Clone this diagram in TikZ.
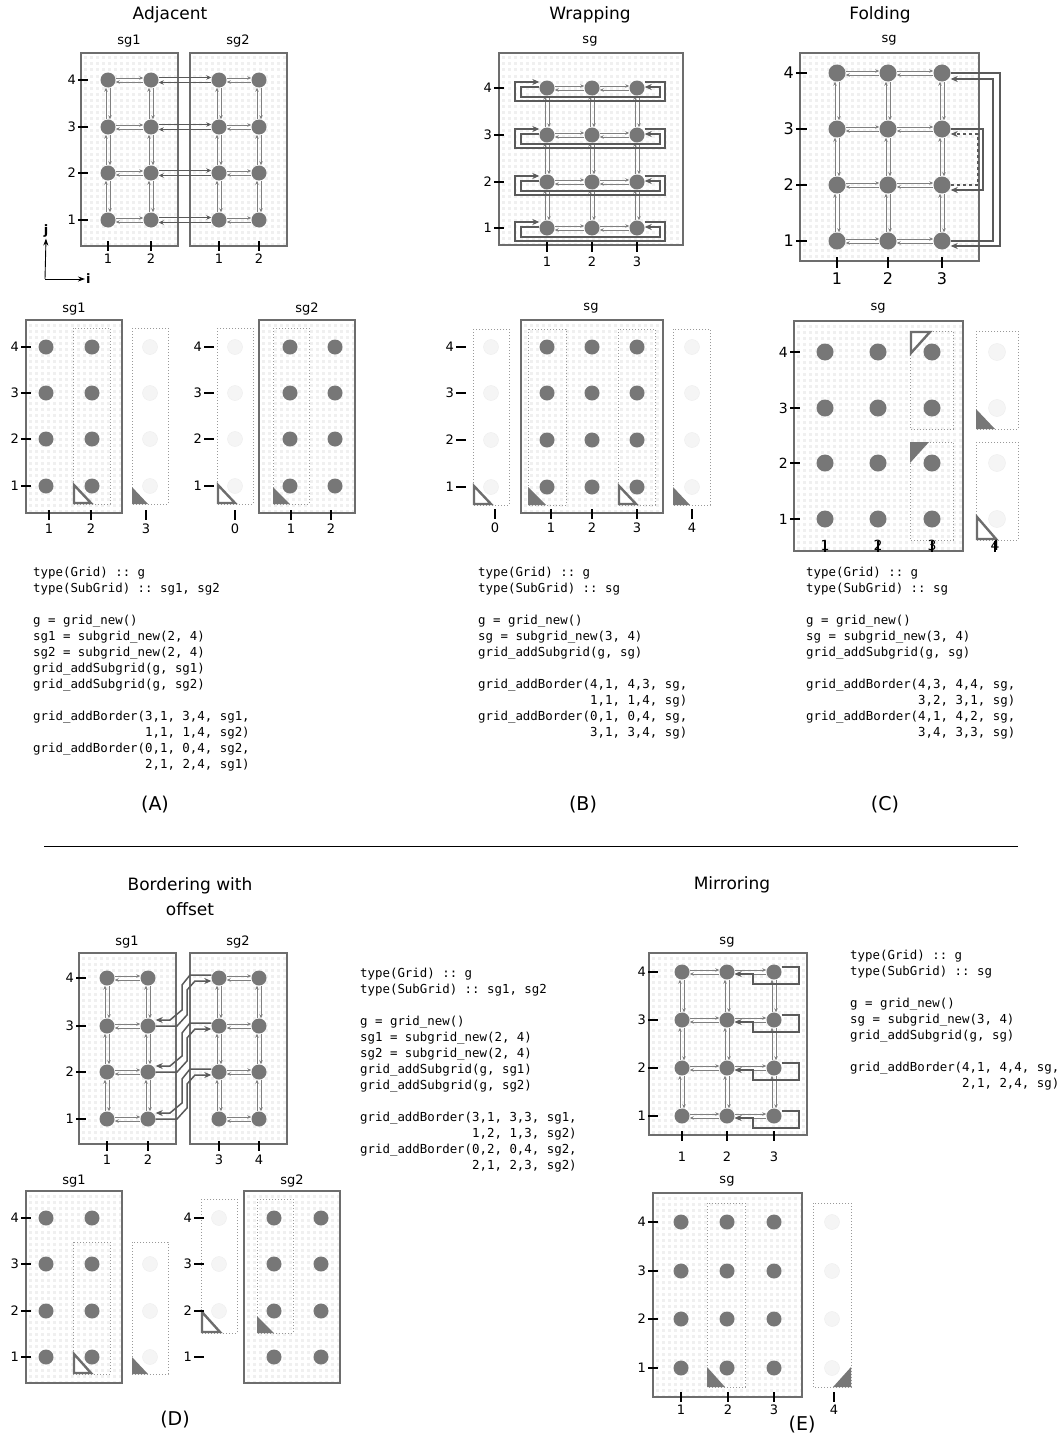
\documentclass[tikz,border=0pt]{standalone}
\usepackage{fontspec}
\setmainfont{DejaVu Sans}
\setsansfont{DejaVu Sans}
\setmonofont{DejaVu Sans Mono}
\usepackage{xcolor}
\usepackage{tikz}
\usetikzlibrary{arrows.meta, positioning, calc}

\definecolor{nodegray}{HTML}{777777}
\definecolor{boxgray}{HTML}{6D6D6D}
\definecolor{linkgray}{HTML}{808080}
\definecolor{bordgray}{HTML}{5A5A5A}
\definecolor{dotgray}{HTML}{F0F0F0}
\definecolor{ghostgray}{HTML}{F5F5F5}

% dotted background of a subgrid
\newcommand{\sgback}[4]{%
  \begin{scope}
    \clip (#1,#2) rectangle (#3,#4);
    \fill[white] (#1,#2) rectangle (#3,#4);
    \foreach \yy in {5,11,...,245}
      \draw[bgdash] (#1+3,#2+\yy) -- (#3,#2+\yy);
  \end{scope}}

% pairs of links
\newcommand{\hlink}[2]{%
  \draw[lnk] ([yshift=2pt]#1.east) -- ([yshift=2pt]#2.west);
  \draw[lnk] ([yshift=-2pt]#2.west) -- ([yshift=-2pt]#1.east);}
\newcommand{\vlink}[2]{%
  \draw[lnk] ([xshift=-2pt]#1.north) -- ([xshift=-2pt]#2.south);
  \draw[lnk] ([xshift=2pt]#2.south) -- ([xshift=2pt]#1.north);}
\newcommand{\hbord}[2]{%
  \draw[bordlnk] ([yshift=2.5pt]#1.east) -- ([yshift=2.5pt]#2.west);
  \draw[bordlnk] ([yshift=-2.5pt]#2.west) -- ([yshift=-2.5pt]#1.east);}

% axis ticks
\newcommand{\yticks}[3]{%
  \foreach \r/\yy in {#3} {
    \draw[tickln] (#2,\yy) -- (#2+10,\yy);
    \node[lbl, anchor=east] (#1-\r) at (#2-1,\yy) {\r};}}
\newcommand{\xticks}[4]{%
  \foreach \t/\xx [count=\k] in {#4} {
    \draw[tickln] (\xx,#2) -- (\xx,#2+10);
    \node[lbl] (#1-\k) at (\xx,#3) {\t};}}

\newcommand{\ind}{\hphantom{grid\_addBorder(}}

\begin{document}
\begin{tikzpicture}[
    x=1pt, y=-1pt,
    cell/.style={circle, fill=nodegray, minimum size=15pt, inner sep=0pt},
    bigcell/.style={cell, minimum size=17pt},
    ghost/.style={circle, fill=ghostgray, draw=black!7, minimum size=15pt, inner sep=0pt},
    bigghost/.style={ghost, minimum size=17pt},
    sgbox/.style={draw=boxgray, line width=1.6pt},
    dotbox/.style={draw=black!40, dotted, line width=1pt},
    lnk/.style={draw=linkgray, line width=0.8pt, -{Stealth[length=4pt,width=3.5pt]}},
    bordlnk/.style={draw=bordgray, line width=1.3pt, -{Stealth[length=5pt,width=4.5pt]}},
    bord/.style={draw=bordgray, line width=1.8pt, -{Stealth[length=7pt,width=6pt]}},
    bgdash/.style={draw=dotgray, line width=3pt, dash pattern=on 3pt off 3pt},
    tickln/.style={draw=black, line width=1.4pt},
    lbl/.style={font=\fontsize{13}{15}\selectfont, inner sep=1pt},
    lblbig/.style={font=\fontsize{16}{18}\selectfont, inner sep=1pt},
    sglbl/.style={font=\fontsize{13}{15}\selectfont, inner sep=0pt},
    ttl/.style={font=\fontsize{17}{25}\selectfont, align=center},
    panellbl/.style={font=\fontsize{19}{22}\selectfont},
    codeblk/.style={font=\ttfamily\fontsize{12.4}{16}\selectfont, align=left, inner sep=0pt, anchor=north west},
    opentri/.style={draw=boxgray, line width=2.4pt, fill=white},
    filltri/.style={fill=nodegray},
    axisarr/.style={line width=0.9pt, -{Stealth[length=7pt,width=5pt]}}
]
\useasboundingbox (0,0) rectangle (1064,1437);

%%%%%%%%%% (A) Adjacent
\node[ttl] (tA) at (170,15) {Adjacent};
\sgback{81}{53}{178}{246}
\sgback{190}{53}{287}{246}
\draw[sgbox] (81,53) rectangle (178,246);
\draw[sgbox] (190,53) rectangle (287,246);
\node[sglbl] (atsg1) at (129,41) {sg1};
\node[sglbl] (atsg2) at (238,41) {sg2};
\foreach \c/\x in {1/108,2/151,3/219,4/259}
  \foreach \r/\y in {1/220,2/173,3/127,4/80}
    \node[cell] (at-\c-\r) at (\x,\y) {};
\foreach \r in {1,...,4} {
  \hlink{at-1-\r}{at-2-\r}
  \hlink{at-3-\r}{at-4-\r}
  \hbord{at-2-\r}{at-3-\r}
}
\foreach \c in {1,...,4}
  \foreach \r/\s in {1/2,2/3,3/4}
    {\vlink{at-\c-\r}{at-\c-\s}}
\yticks{atyl}{78}{1/220,2/173,3/127,4/80}
\xticks{atx}{241}{259}{1/108,2/151,1/219,2/259}
\coordinate (orig) at (45,279);
\node[lbl, font=\bfseries\fontsize{13}{15}\selectfont] (jl) at (46,231) {j};
\node[lbl, font=\bfseries\fontsize{13}{15}\selectfont, anchor=west] (il) at (85,279) {i};
\draw[axisarr] (orig) -- (jl.south);
\draw[axisarr] (orig) -- (il.west);

% lower part
\sgback{26}{320}{122}{513}
\draw[sgbox] (26,320) rectangle (122,513);
\node[sglbl] (absg1) at (74,309) {sg1};
\foreach \c/\x in {1/46,2/92}
  \foreach \r/\y in {1/486,2/439,3/393,4/347}
    \node[cell] (ab-\c-\r) at (\x,\y) {};
\draw[dotbox] (73,328) rectangle (110,504);
\draw[opentri] (74,485) -- (74,503) -- (91,503) -- cycle;
\draw[dotbox] (132,328) rectangle (168,504);
\foreach \r/\y in {1/486,2/439,3/393,4/347}
  \node[ghost] (ab-3-\r) at (150,\y) {};
\fill[filltri] (132,487) -- (132,504) -- (148,504) -- cycle;
\yticks{abyl}{21}{1/486,2/439,3/393,4/347}
\xticks{abx}{510}{529}{1/49,2/91,3/146}

\draw[dotbox] (217,328) rectangle (253,504);
\foreach \r/\y in {1/486,2/439,3/393,4/347}
  \node[ghost] (ab-0-\r) at (235,\y) {};
\draw[opentri] (218,485) -- (218,503) -- (235,503) -- cycle;
\yticks{abyr}{204}{1/486,2/439,3/393,4/347}
\sgback{259}{320}{355}{513}
\draw[sgbox] (259,320) rectangle (355,513);
\node[sglbl] (absg2) at (307,309) {sg2};
\foreach \c/\x in {1/290,2/335}
  \foreach \r/\y in {1/486,2/439,3/393,4/347}
    \node[cell] (abb-\c-\r) at (\x,\y) {};
\draw[dotbox] (273,328) rectangle (309,504);
\fill[filltri] (273,487) -- (273,504) -- (290,504) -- cycle;
\xticks{abxr}{510}{529}{0/235,1/291,2/331}

\node[codeblk] (codeA) at (33,567) {type(Grid) :: g\\
type(SubGrid) :: sg1, sg2\\[16pt]
g = grid\_new()\\
sg1 = subgrid\_new(2, 4)\\
sg2 = subgrid\_new(2, 4)\\
grid\_addSubgrid(g, sg1)\\
grid\_addSubgrid(g, sg2)\\[16pt]
grid\_addBorder(3,1, 3,4, sg1,\\
\ind 1,1, 1,4, sg2)\\
grid\_addBorder(0,1, 0,4, sg2,\\
\ind 2,1, 2,4, sg1)};
\node[panellbl] (capA) at (155,805) {(A)};

%%%%%%%%%% (B) Wrapping
\node[ttl] (tB) at (590,15) {Wrapping};
\sgback{499}{53}{683}{245}
\draw[sgbox] (499,53) rectangle (683,245);
\node[sglbl] (btsg) at (590,41) {sg};
\foreach \c/\x in {1/547,2/592,3/637}
  \foreach \r/\y in {1/228,2/182,3/135,4/88}
    \node[cell] (bt-\c-\r) at (\x,\y) {};
\foreach \r in {1,...,4} {
  \hlink{bt-1-\r}{bt-2-\r}
  \hlink{bt-2-\r}{bt-3-\r}
}
\foreach \c in {1,2,3}
  \foreach \r/\s in {1/2,2/3,3/4}
    {\vlink{bt-\c-\r}{bt-\c-\s}}
\foreach \r/\y in {1/228,2/182,3/135,4/88} {
  \draw[bord] ([yshift=6pt]bt-3-\r.east) -| (665,\y+13) -| (515,\y-6) -- ([yshift=6pt]bt-1-\r.west);
  \draw[bord] ([yshift=1pt]bt-1-\r.west) -| (521,\y+9) -| (660,\y-1) -- ([yshift=1pt]bt-3-\r.east);
}
\yticks{btyl}{494}{1/228,2/182,3/135,4/88}
\xticks{btx}{242}{262}{1/547,2/592,3/637}

% lower part
\draw[dotbox] (473,329) rectangle (509,505);
\foreach \r/\y in {1/487,2/440,3/393,4/347}
  \node[ghost] (bb-0-\r) at (491,\y) {};
\draw[opentri] (474,486) -- (474,504) -- (491,504) -- cycle;
\yticks{bbyl}{456}{1/487,2/440,3/393,4/347}
\sgback{521}{320}{663}{513}
\draw[sgbox] (521,320) rectangle (663,513);
\node[sglbl] (bbsg) at (591,308) {sg};
\foreach \c/\x in {1/547,2/592,3/637}
  \foreach \r/\y in {1/487,2/440,3/393,4/347}
    \node[cell] (bb-\c-\r) at (\x,\y) {};
\draw[dotbox] (528,329) rectangle (566,505);
\fill[filltri] (528,487) -- (528,505) -- (546,505) -- cycle;
\draw[dotbox] (618,329) rectangle (655,505);
\draw[opentri] (619,486) -- (619,504) -- (636,504) -- cycle;
\draw[dotbox] (673,329) rectangle (710,505);
\foreach \r/\y in {1/487,2/440,3/393,4/347}
  \node[ghost] (bb-4-\r) at (692,\y) {};
\fill[filltri] (673,487) -- (673,505) -- (690,505) -- cycle;
\xticks{bbx}{509}{528}{0/495,1/551,2/592,3/637,4/692}

\node[codeblk] (codeB) at (478,567) {type(Grid) :: g\\
type(SubGrid) :: sg\\[16pt]
g = grid\_new()\\
sg = subgrid\_new(3, 4)\\
grid\_addSubgrid(g, sg)\\[16pt]
grid\_addBorder(4,1, 4,3, sg,\\
\ind 1,1, 1,4, sg)\\
grid\_addBorder(0,1, 0,4, sg,\\
\ind 3,1, 3,4, sg)};
\node[panellbl] (capB) at (583,805) {(B)};

%%%%%%%%%% (C) Folding
\node[ttl] (tC) at (880,15) {Folding};
\sgback{800}{53}{979}{261}
\draw[sgbox] (800,53) rectangle (979,261);
\node[sglbl] (ctsg) at (889,40) {sg};
\foreach \c/\x in {1/837,2/888,3/942}
  \foreach \r/\y in {1/241,2/185,3/129,4/73}
    \node[bigcell] (ct-\c-\r) at (\x,\y) {};
\foreach \r in {1,...,4} {
  \hlink{ct-1-\r}{ct-2-\r}
  \hlink{ct-2-\r}{ct-3-\r}
}
\foreach \c in {1,2,3}
  \foreach \r/\s in {1/2,2/3,3/4}
    {\vlink{ct-\c-\r}{ct-\c-\s}}
\draw[bord] (ct-3-4.east) -| (1000,246) -- ([yshift=-5pt]ct-3-1.east);
\draw[bord] (ct-3-1.east) -| (993,79) -- ([yshift=-6pt]ct-3-4.east);
\draw[bord] (ct-3-3.east) -| (983,190) -- ([yshift=-5pt]ct-3-2.east);
\draw[bord, dashed, line width=1.2pt] (ct-3-2.east) -| (978,134) -- ([yshift=-5pt]ct-3-3.east);
\foreach \r/\yy in {1/241,2/185,3/129,4/73} {
  \draw[tickln] (796,\yy) -- (807,\yy);
  \node[lblbig, anchor=east] (ctyl-\r) at (795,\yy) {\r};}
\foreach \t/\xx in {1/837,2/888,3/942} {
  \draw[tickln] (\xx,257) -- (\xx,268);
  \node[lblbig] (ctx-\t) at (\xx,279) {\t};}

% lower part
\sgback{794}{321}{963}{551}
\draw[sgbox] (794,321) rectangle (963,551);
\node[sglbl] (cbsg) at (878,308) {sg};
\foreach \c/\x in {1/825,2/878,3/932}
  \foreach \r/\y in {1/519,2/463,3/408,4/352}
    \node[bigcell] (cb-\c-\r) at (\x,\y) {};
\draw[dotbox] (910,331) rectangle (953,429);
\draw[opentri] (911,332) -- (911,353) -- (930,332) -- cycle;
\draw[dotbox] (910,442) rectangle (953,540);
\fill[filltri] (910,442) -- (910,463) -- (929,442) -- cycle;
\draw[dotbox] (976,331) rectangle (1018,429);
\draw[dotbox] (976,442) rectangle (1018,540);
\foreach \r/\y in {1/519,2/463,3/408,4/352}
  \node[bigghost] (cb-4-\r) at (997,\y) {};
\fill[filltri] (976,409) -- (976,429) -- (995,429) -- cycle;
\draw[opentri] (977,517) -- (977,539) -- (996,539) -- cycle;
\foreach \r/\yy in {1/519,2/463,3/408,4/352} {
  \draw[tickln] (790,\yy) -- (800,\yy);
  \node[lbl, font=\fontsize{14}{16}\selectfont, anchor=east] (cbyl-\r) at (789,\yy) {\r};}
\foreach \t/\xx in {1/825,2/878,3/932,4/995} {
  \draw[tickln] (\xx,541) -- (\xx,552);
  \node[lbl, font=\fontsize{14}{16}\selectfont] (cbx-\t) at (\xx,545) {\t};}

\node[codeblk] (codeC) at (806,567) {type(Grid) :: g\\
type(SubGrid) :: sg\\[16pt]
g = grid\_new()\\
sg = subgrid\_new(3, 4)\\
grid\_addSubgrid(g, sg)\\[16pt]
grid\_addBorder(4,3, 4,4, sg,\\
\ind 3,2, 3,1, sg)\\
grid\_addBorder(4,1, 4,2, sg,\\
\ind 3,4, 3,3, sg)};
\node[panellbl] (capC) at (885,805) {(C)};

% separator
\coordinate (ruleL) at (44,846);
\coordinate (ruleR) at (1018,846);
\draw[line width=1pt] (ruleL) -- (ruleR);

%%%%%%%%%% (D) Bordering with offset
\node[ttl] (tD) at (190,897) {Bordering with\\offset};
\sgback{79}{953}{176}{1144}
\sgback{190}{953}{287}{1144}
\draw[sgbox] (79,953) rectangle (176,1144);
\draw[sgbox] (190,953) rectangle (287,1144);
\node[sglbl] (dtsg1) at (127,942) {sg1};
\node[sglbl] (dtsg2) at (238,942) {sg2};
\foreach \c/\x in {1/107,2/148,3/219,4/259}
  \foreach \r/\y in {1/1119,2/1072,3/1026,4/978}
    \node[cell] (dt-\c-\r) at (\x,\y) {};
\foreach \r in {1,...,4} {
  \hlink{dt-1-\r}{dt-2-\r}
  \hlink{dt-3-\r}{dt-4-\r}
}
\foreach \c in {1,...,4}
  \foreach \r/\s in {1/2,2/3,3/4}
    {\vlink{dt-\c-\r}{dt-\c-\s}}
\foreach \r/\s/\yr/\ys in {1/2/1119/1072,2/3/1072/1026,3/4/1026/978} {
  \draw[bord, line width=1.5pt] ([yshift=3pt]dt-3-\s.west) -- (190,\ys-3) -- (182,\ys+7) -- (182,\yr-16) -- (170,\yr-6) -- ([yshift=6pt]dt-2-\r.east);
  \draw[bord, line width=1.5pt] (dt-2-\r.east) -- (177,\yr) -- (187,\yr-11) -- (187,\ys+12) -- (195,\ys+3) -- ([yshift=-3pt]dt-3-\s.west);
}
\yticks{dtyl}{76}{1/1119,2/1072,3/1026,4/978}
\xticks{dtx}{1141}{1160}{1/107,2/148,3/219,4/259}

% lower part
\sgback{26}{1191}{122}{1383}
\draw[sgbox] (26,1191) rectangle (122,1383);
\node[sglbl] (dbsg1) at (74,1181) {sg1};
\foreach \c/\x in {1/46,2/92}
  \foreach \r/\y in {1/1357,2/1311,3/1264,4/1218}
    \node[cell] (db-\c-\r) at (\x,\y) {};
\draw[dotbox] (73,1242) rectangle (110,1374);
\draw[opentri] (74,1354) -- (74,1373) -- (91,1373) -- cycle;
\draw[dotbox] (132,1242) rectangle (168,1374);
\foreach \r/\y in {1/1357,2/1311,3/1264}
  \node[ghost] (db-3-\r) at (150,\y) {};
\fill[filltri] (132,1357) -- (132,1374) -- (148,1374) -- cycle;
\yticks{dbyl}{21}{1/1357,2/1311,3/1264,4/1218}

\draw[dotbox] (201,1199) rectangle (237,1333);
\foreach \r/\y in {2/1311,3/1264,4/1218}
  \node[ghost] (db-0-\r) at (219,\y) {};
\draw[opentri] (202,1312) -- (202,1332) -- (220,1332) -- cycle;
\yticks{dbyr}{194}{1/1357,2/1311,3/1264,4/1218}
\sgback{244}{1191}{340}{1383}
\draw[sgbox] (244,1191) rectangle (340,1383);
\node[sglbl] (dbsg2) at (292,1181) {sg2};
\foreach \c/\x in {1/274,2/321}
  \foreach \r/\y in {1/1357,2/1311,3/1264,4/1218}
    \node[cell] (dbb-\c-\r) at (\x,\y) {};
\draw[dotbox] (257,1199) rectangle (293,1333);
\fill[filltri] (257,1316) -- (257,1333) -- (274,1333) -- cycle;

\node[codeblk] (codeD) at (360,968) {type(Grid) :: g\\
type(SubGrid) :: sg1, sg2\\[16pt]
g = grid\_new()\\
sg1 = subgrid\_new(2, 4)\\
sg2 = subgrid\_new(2, 4)\\
grid\_addSubgrid(g, sg1)\\
grid\_addSubgrid(g, sg2)\\[16pt]
grid\_addBorder(3,1, 3,3, sg1,\\
\ind 1,2, 1,3, sg2)\\
grid\_addBorder(0,2, 0,4, sg2,\\
\ind 2,1, 2,3, sg2)};
\node[panellbl] (capD) at (175,1420) {(D)};

%%%%%%%%%% (E) Mirroring
\node[ttl] (tE) at (732,885) {Mirroring};
\sgback{649}{953}{807}{1135}
\draw[sgbox] (649,953) rectangle (807,1135);
\node[sglbl] (etsg) at (727,942) {sg};
\foreach \c/\x in {1/682,2/727,3/774}
  \foreach \r/\y in {1/1116,2/1068,3/1020,4/972}
    \node[cell] (et-\c-\r) at (\x,\y) {};
\foreach \r in {1,...,4} {
  \hlink{et-1-\r}{et-2-\r}
  \hlink{et-2-\r}{et-3-\r}
}
\foreach \c in {1,2,3}
  \foreach \r/\s in {1/2,2/3,3/4}
    {\vlink{et-\c-\r}{et-\c-\s}}
\foreach \r/\y in {1/1116,2/1068,3/1020,4/972}
  \draw[bord, line width=1.6pt] ([yshift=5pt]et-3-\r.east) -| (799,\y+12) -| (753,\y+2) -- ([yshift=-2pt]et-2-\r.east);
\yticks{etyl}{648}{1/1116,2/1068,3/1020,4/972}
\xticks{etx}{1131}{1157}{1/682,2/727,3/774}

% lower part
\sgback{653}{1193}{802}{1397}
\draw[sgbox] (653,1193) rectangle (802,1397);
\node[sglbl] (ebsg) at (727,1181) {sg};
\foreach \c/\x in {1/681,2/727,3/774}
  \foreach \r/\y in {1/1368,2/1319,3/1271,4/1222}
    \node[cell] (eb-\c-\r) at (\x,\y) {};
\draw[dotbox] (707,1203) rectangle (745,1387);
\fill[filltri] (707,1367) -- (707,1387) -- (725,1387) -- cycle;
\draw[dotbox] (813,1203) rectangle (851,1387);
\foreach \r/\y in {1/1368,2/1319,3/1271,4/1222}
  \node[ghost] (eb-4-\r) at (832,\y) {};
\fill[filltri] (851,1367) -- (851,1387) -- (833,1387) -- cycle;
\yticks{ebyl}{648}{1/1368,2/1319,3/1271,4/1222}
\xticks{ebx}{1392}{1410}{1/681,2/728,3/774,4/834}

\node[codeblk] (codeE) at (850,950) {type(Grid) :: g\\
type(SubGrid) :: sg\\[16pt]
g = grid\_new()\\
sg = subgrid\_new(3, 4)\\
grid\_addSubgrid(g, sg)\\[16pt]
grid\_addBorder(4,1, 4,4, sg,\\
\ind 2,1, 2,4, sg)};
\node[panellbl] (capE) at (802,1425) {(E)};

\end{tikzpicture}
\end{document}
